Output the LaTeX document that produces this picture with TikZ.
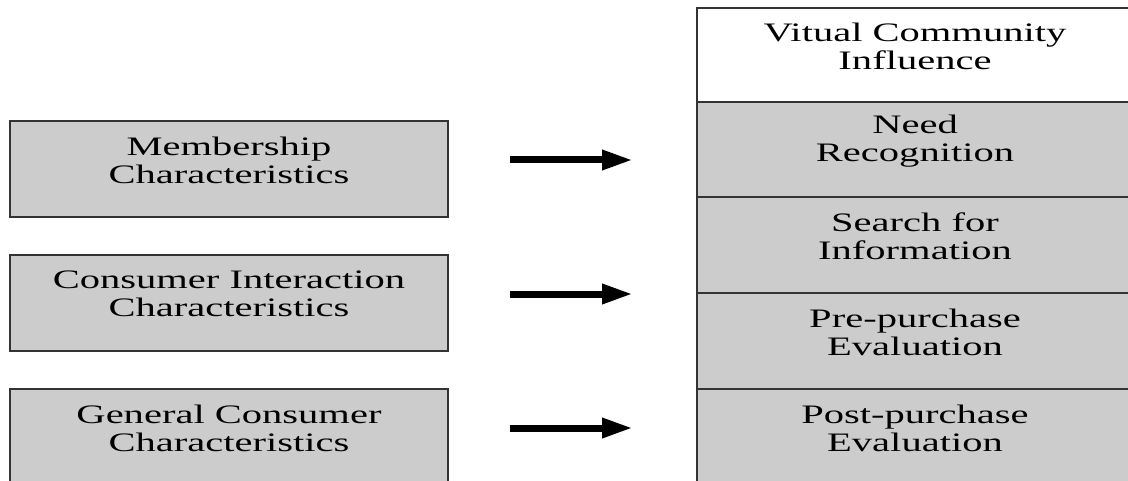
\documentclass[tikz,border=0pt]{standalone}
\usepackage{fontspec}
\setmainfont{Liberation Serif}[FakeStretch=1.52]
\usetikzlibrary{arrows.meta}

\begin{document}
\begin{tikzpicture}[x=0.75pt, y=-0.75pt,
  lbox/.style={draw=black!80, line width=1.8pt, fill=black!20, minimum width=328.5pt, minimum height=72pt, inner sep=0pt},
  rcell/.style={draw=black!80, line width=1.8pt, fill=black!20, minimum width=331.5pt, minimum height=72pt, inner sep=0pt},
  btext/.style={align=center, inner sep=0pt, font=\fontsize{20}{21}\selectfont},
  arr/.style={line width=5.25pt, -{Triangle[length=23pt, width=14pt]}, shorten <=45.75pt, shorten >=47.25pt}]
\useasboundingbox (0,0) rectangle (1128,481);
\clip (0,0) rectangle (1128,481);

%left boxes
\node[lbox] (m) at (229,169) {};
\node[lbox] (ci) at (229,303) {};
\node[lbox] (gc) at (229,437) {};
\node[btext] (mt) at ([yshift=6.75pt]m.center) {Membership\\Characteristics};
\node[btext] (cit) at ([yshift=6.75pt]ci.center) {Consumer Interaction\\Characteristics};
\node[btext] (gct) at ([yshift=6.75pt]gc.center) {General Consumer\\Characteristics};

%stages
\node[rcell, fill=white, minimum height=70.5pt] (vci) at (918,55) {};
\node[rcell] (nr) at (918,150) {};
\node[rcell] (sfi) at (918,245) {};
\node[rcell] (ppe) at (918,341) {};
\node[rcell] (pse) at (918,437) {};
\node[btext] at ([xshift=-2.25pt, yshift=6.75pt]vci.center) {Vitual Community\\Influence};
\node[btext] at ([xshift=-2.25pt, yshift=6.75pt]nr.center) {Need\\Recognition};
\node[btext] at ([xshift=-2.25pt, yshift=6.75pt]sfi.center) {Search for\\Information};
\node[btext] at ([xshift=-2.25pt, yshift=6.75pt]ppe.center) {Pre-purchase\\Evaluation};
\node[btext] at ([xshift=-2.25pt, yshift=6.75pt]pse.center) {Post-purchase\\Evaluation};

\draw[arr] (mt -| m.east) -- (mt -| vci.west);
\draw[arr] (cit -| ci.east) -- (cit -| vci.west);
\draw[arr] (gct -| gc.east) -- (gct -| vci.west);
\end{tikzpicture}
\end{document}
